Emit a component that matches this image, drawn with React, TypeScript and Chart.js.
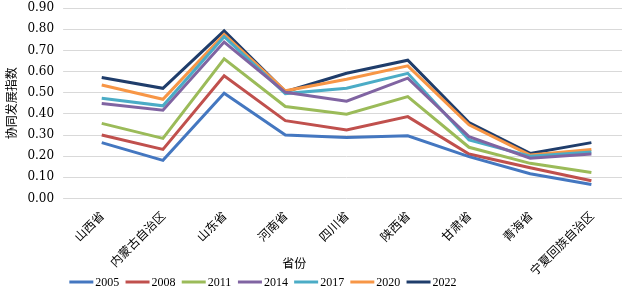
import React, { useEffect, useRef } from "react";
import { Chart, registerables } from "chart.js";

Chart.register(...registerables);

const provinces = ["山西省", "内蒙古自治区", "山东省", "河南省", "四川省", "陕西省", "甘肃省", "青海省", "宁夏回族自治区"];
const years = ["2005", "2008", "2011", "2014", "2017", "2020", "2022"];
const s2005 = [0.264, 0.180, 0.498, 0.300, 0.288, 0.296, 0.198, 0.117, 0.066];
const s2008 = [0.300, 0.232, 0.580, 0.368, 0.324, 0.387, 0.210, 0.145, 0.084];
const s2011 = [0.355, 0.284, 0.660, 0.435, 0.398, 0.482, 0.242, 0.166, 0.123];
const s2014 = [0.449, 0.417, 0.740, 0.502, 0.460, 0.569, 0.292, 0.190, 0.210];
const s2017 = [0.474, 0.438, 0.765, 0.496, 0.521, 0.592, 0.277, 0.200, 0.220];
const s2020 = [0.537, 0.469, 0.776, 0.509, 0.564, 0.627, 0.348, 0.205, 0.232];
const s2022 = [0.572, 0.521, 0.793, 0.505, 0.592, 0.654, 0.359, 0.213, 0.264];
const seriesValues = [s2005, s2008, s2011, s2014, s2017, s2020, s2022];
const colors = ["#4477C0", "#C0504D", "#9BBB59", "#8064A2", "#4BACC6", "#F79646", "#1F3D6B"];
const yTicks = { min: 0, max: 0.9, step: 0.1 };
const yTitle = "协同发展指数";
const xTitle = "省份";

const cjk = '"Noto Sans CJK SC", "Noto Sans", sans-serif';
const serif = '"DejaVu Serif", "Liberation Serif", serif';
const legendSerif = '"Liberation Serif", serif';

const SHIFT = 8;

const xTitlePlugin = {
  id: "xTitlePlugin",
  afterDraw(chart: any) {
    const { ctx, chartArea } = chart;
    ctx.save();
    ctx.font = `12px ${cjk}`;
    ctx.fillStyle = "#000";
    ctx.textAlign = "center";
    ctx.textBaseline = "middle";
    const x = chartArea.left + (chartArea.right - chartArea.left) * 0.405;
    const y = chartArea.bottom + 65;
    ctx.fillText(xTitle, x, y);
    ctx.restore();
  },
};

const legendPlugin = {
  id: "customLegend",
  afterDraw(chart: any) {
    const { ctx } = chart;
    const items = chart.data.datasets;
    const lineW = 24;
    const gap = 2;
    const itemW = 56.2;
    const total = itemW * items.length - 10;
    const cx = chart.width * 0.419;
    let x = cx - total / 2;
    const y = chart.height - 12;
    ctx.save();
    ctx.font = `12px ${legendSerif}`;
    ctx.textBaseline = "middle";
    ctx.textAlign = "left";
    items.forEach((ds: any) => {
      ctx.strokeStyle = ds.borderColor;
      ctx.lineWidth = 3;
      ctx.beginPath();
      ctx.moveTo(x, y);
      ctx.lineTo(x + lineW, y);
      ctx.stroke();
      ctx.fillStyle = "#000";
      ctx.fillText(ds.label, x + lineW + gap, y + 1);
      x += itemW;
    });
    ctx.restore();
  },
};

export default function App() {
  const ref = useRef<HTMLCanvasElement | null>(null);
  useEffect(() => {
    if (!ref.current) return;
    const chart = new Chart(ref.current, {
      type: "line",
      data: {
        labels: provinces,
        datasets: years.map((y, i) => ({
          label: y,
          data: seriesValues[i],
          borderColor: colors[i],
          backgroundColor: colors[i],
          borderWidth: 3,
          pointRadius: 0,
          tension: 0,
        })),
      },
      options: {
        responsive: false,
        animation: false,
        layout: { padding: { top: 0, right: 1, left: 4, bottom: 14 } },
        plugins: {
          legend: { display: false },
          tooltip: { enabled: false },
        },
        scales: {
          x: {
            offset: true,
            grid: { display: false },
            border: { display: false },
            ticks: {
              minRotation: 45,
              maxRotation: 45,
              autoSkip: false,
              color: "#000",
              padding: 2,
              font: { family: cjk, size: 12 },
            },
          },
          y: {
            min: yTicks.min,
            max: yTicks.max,
            grid: { color: "#d9d9d9", lineWidth: 1 },
            border: { display: false },
            ticks: {
              stepSize: yTicks.step,
              color: "#000",
              padding: 9,
              font: { family: serif, size: 12 },
              callback: (v: any) => Number(v).toFixed(2),
            },
            title: {
              display: true,
              text: yTitle,
              color: "#000",
              padding: 0,
              font: { family: cjk, size: 12 },
            },
          },
        },
      },
      plugins: [xTitlePlugin, legendPlugin],
    });
    return () => chart.destroy();
  }, []);
  return (
    <div style={{ position: "fixed", left: 0, top: 0, width: 623, height: 294, background: "#fff", overflow: "hidden" }}>
      <canvas ref={ref} width={623} height={294 + SHIFT} style={{ position: "absolute", left: 0, top: -SHIFT }} />
    </div>
  );
}
